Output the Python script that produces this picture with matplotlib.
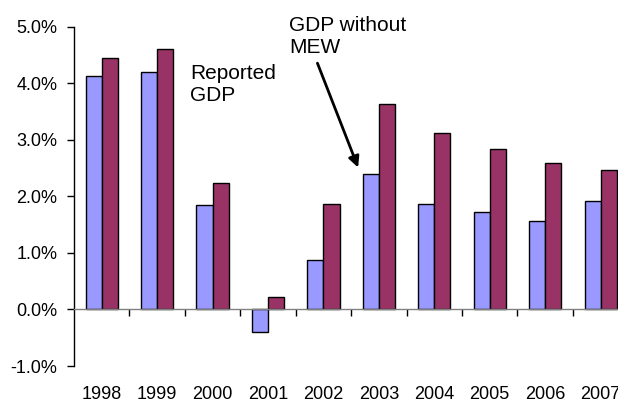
import matplotlib
matplotlib.use("Agg")
import matplotlib.pyplot as plt
import numpy as np
from matplotlib.ticker import FuncFormatter

plt.rcParams['font.family'] = ['Liberation Sans', 'DejaVu Sans']

years = ["1998", "1999", "2000", "2001", "2002", "2003", "2004", "2005", "2006", "2007"]
reported_gdp = [4.13, 4.19, 1.85, -0.39, 0.88, 2.40, 1.87, 1.72, 1.57, 1.92]
gdp_without_mew = [4.44, 4.61, 2.23, 0.22, 1.87, 3.63, 3.12, 2.84, 2.59, 2.46]
y_ticks = [-1.0, 0.0, 1.0, 2.0, 3.0, 4.0, 5.0]

fig = plt.figure(figsize=(6.18, 4.03), dpi=100)
ax = fig.add_axes([0.1197, 0.0918, 0.897, 0.842])

x = np.arange(len(years))
w = 0.29
ax.bar(x - w / 2, reported_gdp, w, color='#9999FF', edgecolor='black', linewidth=1.0, zorder=3)
ax.bar(x + w / 2, gdp_without_mew, w, color='#993366', edgecolor='black', linewidth=1.0, zorder=3)

ax.set_xlim(-0.5, len(years) - 0.5)
ax.set_ylim(y_ticks[0], y_ticks[-1])

# y axis
ax.set_yticks(y_ticks)
ax.yaxis.set_major_formatter(FuncFormatter(lambda v, p: f"{v:.1f}%"))
ax.tick_params(axis='y', direction='out', length=5, width=1, pad=7, labelsize=13, color='black')

# category axis sits on the zero line, ticks between categories
ax.spines['top'].set_visible(False)
ax.spines['right'].set_visible(False)
ax.spines['bottom'].set_position(('data', 0))
ax.spines['bottom'].set_color('#808080')
ax.spines['bottom'].set_linewidth(1.0)
ax.spines['bottom'].set_zorder(4)
ax.spines['left'].set_linewidth(1.0)
ax.set_xticks(x[:-1] + 0.5)
ax.set_xticklabels([])
ax.tick_params(axis='x', direction='out', length=5, width=1, color='black')

# category labels along the bottom edge
for xi, label in zip(x, years):
    ax.text(xi, -1.58, label, ha='center', va='baseline', fontsize=13, clip_on=False)

ax.text(1.594, 3.68, "Reported\nGDP", fontsize=15, ha='left', va='baseline', linespacing=1.2)
ax.annotate("GDP without\nMEW", xy=(4.626, 2.51), xytext=(3.381, 4.54),
            fontsize=15, ha='left', va='baseline', linespacing=1.2,
            arrowprops=dict(arrowstyle='-|>', color='black', lw=2.0, mutation_scale=16,
                            shrinkA=5, shrinkB=0, patchA=None,
                            relpos=(0.22, 0.0)))

fig.savefig("out.png", dpi=100)
